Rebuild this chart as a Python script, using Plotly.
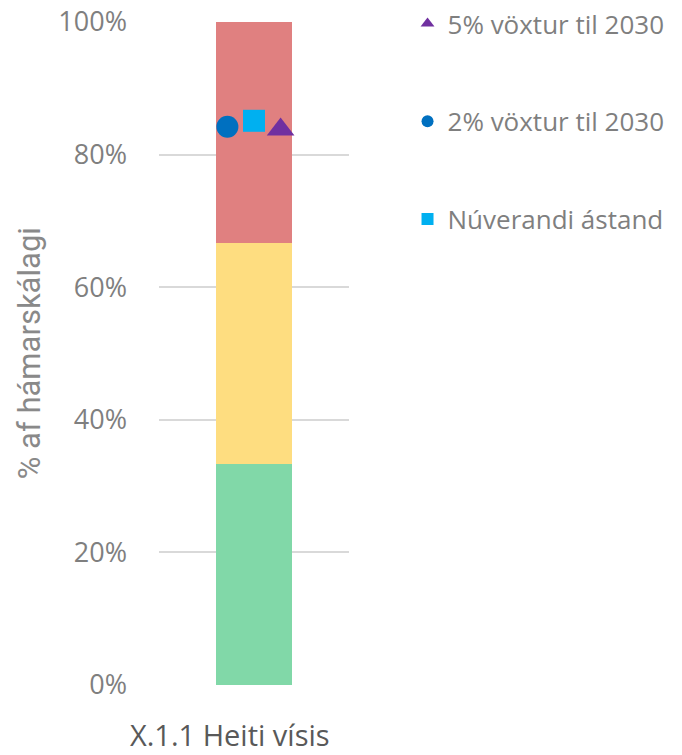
import plotly.graph_objects as go

categories = ["X.1.1 Heiti vísis"]
band_names = ["Grænt", "Gult", "Rautt"]
band_values = [1 / 3, 1 / 3, 1 / 3]
band_colors = ["#81D8A8", "#FEDD80", "#E08080"]

series_names = ["2% vöxtur til 2030", "Núverandi ástand", "5% vöxtur til 2030"]
series_values = [0.842, 0.851, 0.838]
series_symbols = ["circle", "square", "triangle-up"]
series_colors = ["#0070C0", "#00B0F0", "#7030A0"]
series_sizes = [22, 22, 24]
series_rank = [2, 3, 1]

y_ticks = [0, 0.2, 0.4, 0.6, 0.8, 1.0]

grey = "#7F7F7F"

fig = go.Figure()

for name, val, col in zip(band_names, band_values, band_colors):
    fig.add_trace(go.Bar(
        x=categories, y=[val], name=name,
        marker=dict(color=col, line=dict(width=0)),
        width=0.405, showlegend=False, hoverinfo="skip"
    ))

# markers sit on an overlaid axis so they group among themselves only
for i, (name, val, sym, col, sz, rank) in enumerate(zip(series_names, series_values, series_symbols,
                                                        series_colors, series_sizes, series_rank)):
    fig.add_trace(go.Scatter(
        x=categories, y=[val], name=name, mode="markers", xaxis="x2",
        marker=dict(symbol=sym, color=col, size=sz),
        legendrank=rank, legendgroup=name,
        offsetgroup="s%d" % i
    ))

fig.add_annotation(
    x=categories[0], y=0, xref="x", yref="paper",
    text=categories[0], showarrow=False,
    yanchor="middle", yshift=-49, xshift=-24,
    font=dict(size=29, color="#595959", family="Open Sans")
)

fig.add_annotation(
    x=-0.68, y=0.5, xref="paper", yref="paper",
    text="% af hámarskálagi", textangle=-90, showarrow=False,
    xanchor="center", yanchor="middle",
    font=dict(size=31, color="#898989", family="Roboto")
)

fig.update_layout(
    barmode="stack",
    scattermode="group",
    scattergap=0.58,
    width=682, height=755,
    paper_bgcolor="white", plot_bgcolor="white",
    margin=dict(l=159, r=333, t=22, b=70, autoexpand=False),
    font=dict(family="Open Sans", color=grey),
    legend=dict(
        x=1.308, y=1.033, xanchor="left", yanchor="top",
        font=dict(size=26, color=grey),
        tracegroupgap=61, itemsizing="constant"
    ),
    xaxis=dict(
        range=[-0.5, 0.5],
        showline=False, showgrid=False, ticks="",
        showticklabels=False
    ),
    xaxis2=dict(
        overlaying="x", range=[-0.5, 0.5], showline=False, showgrid=False, ticks="",
        showticklabels=False
    ),
    yaxis=dict(
        range=[0, 1], tickvals=y_ticks, tickformat=".0%",
        showgrid=True, gridcolor="#D9D9D9", gridwidth=1.5,
        zeroline=False, showline=False, ticks="",
        tickfont=dict(size=27, color=grey),
        ticklabelstandoff=31, ticklabeloverflow="allow"
    )
)

# drop the default page margin so the figure sits at the window's top-left
fig.write_html("out.html", config={"displayModeBar": False},
               post_script="document.body.style.margin='0';")
